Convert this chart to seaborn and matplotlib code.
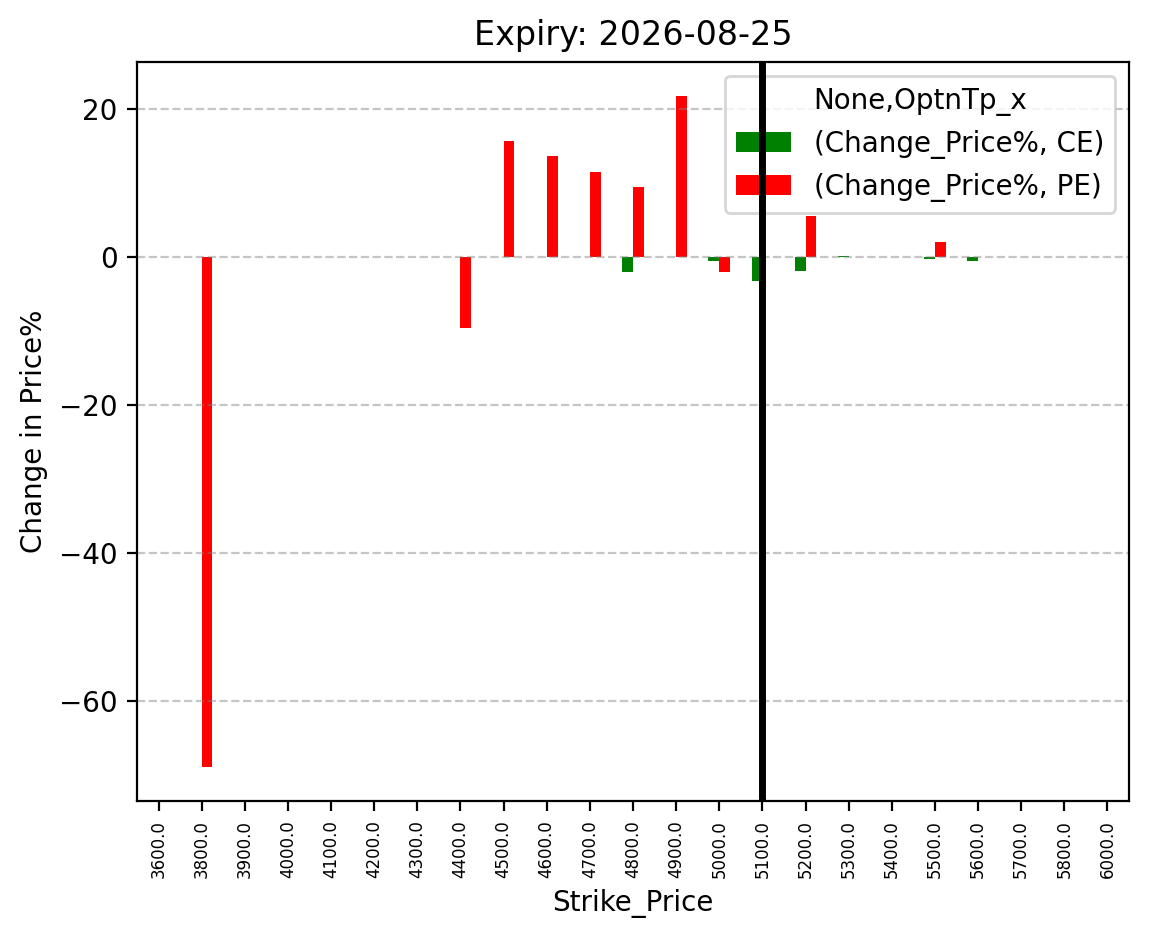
import numpy as np
import pandas as pd
import matplotlib
matplotlib.use("Agg")
import matplotlib.pyplot as plt
import seaborn as sns

strikes = [3600.0, 3800.0, 3900.0, 4000.0, 4100.0, 4200.0, 4300.0, 4400.0, 4500.0,
           4600.0, 4700.0, 4800.0, 4900.0, 5000.0, 5100.0, 5200.0, 5300.0, 5400.0,
           5500.0, 5600.0, 5700.0, 5800.0, 6000.0]
nan = np.nan
ce_change = [nan, nan, nan, nan, nan, nan, nan, nan, nan,
             nan, nan, -2.1, nan, -0.6, -3.3, -1.9, 0.1, nan,
             -0.35, -0.5, nan, nan, nan]
pe_change = [nan, -69.0, nan, nan, nan, nan, nan, -9.6, 15.7,
             13.6, 11.5, 9.5, 21.8, -2.1, nan, 5.5, nan, nan,
             2.0, nan, nan, nan, nan]
spot_strike = "5100.0"

labels = [str(s) for s in strikes]
df = pd.DataFrame({
    "Strike_Price": labels * 2,
    "value": ce_change + pe_change,
    "series": ["(Change_Price%, CE)"] * len(labels) + ["(Change_Price%, PE)"] * len(labels),
})

W, H, DPI = 1149, 939, 200
fig = plt.figure(figsize=(W / DPI, H / DPI), dpi=DPI)
ax = fig.add_axes([137 / W, 1 - 801 / H, (1129 - 137) / W, (801 - 62) / H])

sns.barplot(data=df, x="Strike_Price", y="value", hue="series", order=labels,
            palette=["green", "red"], saturation=1, width=0.5, gap=0,
            errorbar=None, ax=ax)

ax.axvline(labels.index(spot_strike), color="black", linewidth=2.5, zorder=6)
ax.grid(axis="y", linestyle="--", color="gray", alpha=0.45)
ax.set_xlim(-0.5, len(labels) - 0.5)
ax.tick_params(axis="x", labelrotation=90, labelsize=6)
ax.set_title("Expiry: 2026-08-25")
ax.set_xlabel("Strike_Price")
ax.set_ylabel("Change in Price%")

handles, hl = ax.get_legend_handles_labels()
ax.legend(handles, hl, title="None,OptnTp_x", loc="upper right")

fig.savefig("out.png", dpi=DPI)
